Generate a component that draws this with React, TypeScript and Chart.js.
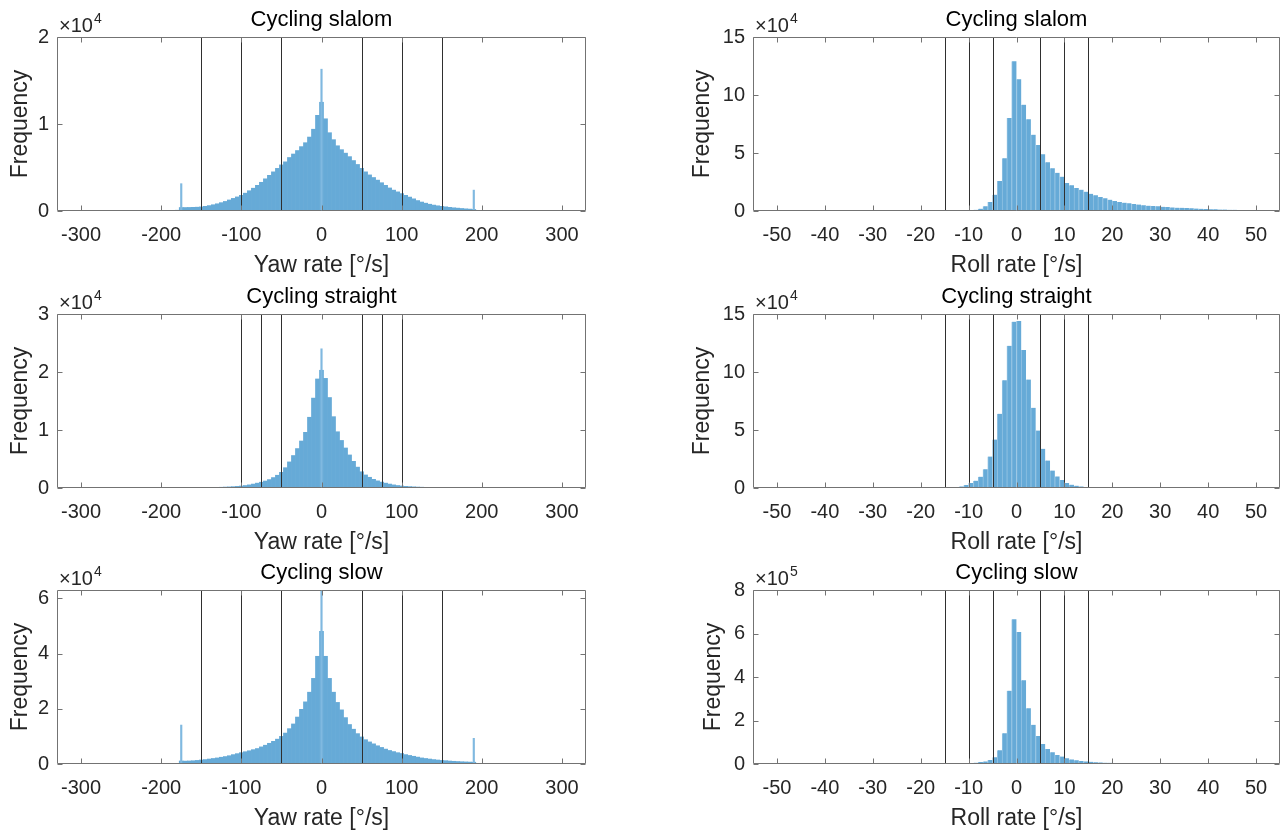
import React, { useEffect, useRef } from "react";
import { Chart, registerables } from "chart.js";

Chart.register(...registerables);

const FONT = '"Liberation Sans", Arial, Helvetica, sans-serif';
const TEXT_COLOR = "#262626";
const BOX_COLOR = "#737373";
const LINE_COLOR = "#2f2f2f";
const BAR_COLOR = "#66aad7";
const BAR_EDGE = "#8fc0e2";
const SPIKE_COLOR = "#80b9e0";

// ---------- yaw-rate histograms (5 deg/s bins, centres from -200 to 300) ----------
const YAW_FIRST_CENTER = -200;
const YAW_BIN_WIDTH = 5;

const SLALOM_YAW = [
  60, 70, 70, 80, 90, 400, 400, 410, 420, 440,
  470, 540, 620, 720, 830, 960, 1100, 1270, 1450, 1620,
  1800, 2050, 2330, 2620, 2950, 3300, 3700, 4100, 4500, 4900,
  5300, 5650, 6150, 6550, 6950, 7400, 7850, 8500, 9400, 11000,
  12500, 10600, 9000, 8200, 7500, 7050, 6650, 6250, 5800, 5350,
  4900, 4500, 4150, 3850, 3550, 3250, 2950, 2650, 2400, 2200,
  2000, 1800, 1600, 1400, 1200, 1030, 900, 780, 680, 600,
  540, 480, 420, 370, 330, 290, 250, 220, 180, 40,
  40, 35, 35, 35, 30, 30, 30, 30, 25, 25,
  25, 25, 20, 20, 20, 20, 20, 15, 15, 15,
  15,
];
const SLALOM_YAW_SPIKE_X = [-175, 0, 190];
const SLALOM_YAW_SPIKE = [3140, 16300, 2400];

const STRAIGHT_YAW = [
  20, 20, 25, 25, 30, 30, 35, 40, 45, 50,
  60, 70, 80, 95, 110, 130, 160, 190, 230, 280,
  340, 430, 540, 680, 840, 1000, 1200, 1450, 1800, 2200,
  2700, 3500, 4500, 5600, 6800, 8100, 9600, 12200, 15500, 18800,
  20300, 18900, 15600, 12300, 9700, 8200, 6900, 5700, 4600, 3600,
  2800, 2250, 1850, 1500, 1230, 1020, 840, 680, 540, 430,
  350, 290, 240, 200, 165, 140, 115, 95, 80, 70,
  60, 50, 45, 40, 35, 30, 30, 25, 25, 20,
  20, 10, 10, 10, 10, 10, 5, 5, 5, 5,
  5, 5, 5, 0, 0, 0, 0, 0, 0, 0,
  0,
];
const STRAIGHT_YAW_SPIKE_X = [0];
const STRAIGHT_YAW_SPIKE = [24000];

const SLOW_YAW = [
  100, 110, 120, 130, 150, 1100, 1050, 1100, 1180, 1300,
  1450, 1600, 1800, 2000, 2200, 2450, 2700, 3000, 3400, 3750,
  4100, 4450, 4800, 5200, 5600, 6200, 6800, 7500, 8200, 9000,
  10000, 11200, 12800, 14500, 17000, 19800, 22500, 26000, 31000, 39000,
  48000, 39000, 31000, 26000, 22300, 19600, 16800, 14300, 12600, 11000,
  9800, 8800, 8000, 7300, 6600, 6000, 5400, 4900, 4500, 4100,
  3800, 3400, 3100, 2800, 2500, 2200, 2000, 1800, 1600, 1450,
  1300, 1200, 1080, 980, 900, 820, 760, 700, 650, 60,
  60, 55, 55, 50, 50, 45, 45, 40, 40, 35,
  35, 30, 30, 25, 25, 20, 20, 15, 15, 10,
  10,
];
const SLOW_YAW_SPIKE_X = [-175, 0, 190];
const SLOW_YAW_SPIKE = [14100, 62800, 9300];

// ---------- roll-rate histograms (1 deg/s bins, left edges from -20 to 49) ----------
const ROLL_FIRST_EDGE = -20;
const ROLL_BIN_WIDTH = 1;

const SLALOM_ROLL = [
  0, 0, 0, 0, 0, 50, 100, 150, 250, 400,
  600, 1100, 2000, 4000, 7800, 14100, 25900, 45400, 80200, 129000,
  113500, 91700, 79000, 65800, 56900, 48900, 42000, 36800, 33000, 29600,
  24100, 22100, 19800, 18400, 16700, 14900, 13500, 12100, 10900, 9800,
  8600, 7800, 7200, 6600, 6000, 5500, 4900, 4600, 4300, 4000,
  3700, 3400, 3100, 2900, 2700, 2500, 2300, 2100, 1900, 1750,
  1600, 1450, 1300, 1200, 1100, 1000, 900, 800, 700, 600,
];

const STRAIGHT_ROLL = [
  0, 30, 60, 120, 200, 300, 500, 870, 1400, 2600,
  4300, 6300, 9800, 16200, 27100, 41800, 64000, 92900, 122600, 143400,
  144000, 118900, 93500, 69200, 49600, 33800, 23700, 15000, 10000, 6800,
  4300, 2900, 2000, 1400, 900, 600, 400, 250, 150, 100,
  60, 40, 30, 20, 20, 15, 15, 10, 10, 10,
  10, 5, 5, 5, 5, 5, 0, 0, 0, 0,
  0, 0, 0, 0, 0, 0, 0, 0, 0, 0,
];

const SLOW_ROLL = [
  0, 100, 200, 300, 500, 700, 1000, 1500, 2000, 3000,
  4000, 6000, 9000, 12000, 18000, 31000, 63000, 141000, 337000, 665000,
  607000, 385000, 256000, 180000, 129000, 92000, 69000, 54000, 41000, 34000,
  26000, 21000, 17000, 14000, 12000, 10000, 8500, 7200, 6000, 5200,
  4500, 3900, 3400, 3000, 2600, 2300, 2000, 1800, 1600, 1400,
  1250, 1100, 1000, 900, 800, 700, 620, 550, 480, 420,
  370, 320, 280, 240, 200, 170, 140, 110, 90, 70,
];

// ---------- ticks and threshold lines ----------
const YAW_X_TICKS = [-300, -200, -100, 0, 100, 200, 300];
const ROLL_X_TICKS = [-50, -40, -30, -20, -10, 0, 10, 20, 30, 40, 50];
const YAW_X_RANGE = [-330, 330];
const ROLL_X_RANGE = [-55, 55];

const Y_TICKS_SLALOM_YAW = [0, 10000, 20000];
const Y_TICKS_STRAIGHT_YAW = [0, 10000, 20000, 30000];
const Y_TICKS_SLOW_YAW = [0, 20000, 40000, 60000];
const Y_TICKS_SLALOM_ROLL = [0, 50000, 100000, 150000];
const Y_TICKS_STRAIGHT_ROLL = [0, 50000, 100000, 150000];
const Y_TICKS_SLOW_ROLL = [0, 200000, 400000, 600000, 800000];

const LINES_YAW_WIDE = [-150, -100, -50, 50, 100, 150];
const LINES_YAW_STRAIGHT = [-100, -75, -50, 50, 75, 100];
const LINES_ROLL = [-15, -10, -5, 5, 10, 15];

// ---------- layout ----------
const COLS = [
  { left: 0, width: 591, yAxisW: 57 },
  { left: 673, width: 612, yAxisW: 80 },
];
const ROW_TOPS = [0, 277, 553];
const CANVAS_H = 281;
const X_AXIS_H = 70;

type PanelCfg = {
  title: string;
  xTitle: string;
  col: number;
  row: number;
  values: number[];
  firstX: number;
  binW: number;
  centered: boolean;
  spikeX: number[];
  spikeY: number[];
  xRange: number[];
  xTicks: number[];
  yTicks: number[];
  yMax: number;
  exp: number;
  lines: number[];
  yTitlePad: number;
};

const PANELS: PanelCfg[] = [
  { title: "Cycling slalom", xTitle: "Yaw rate [°/s]", col: 0, row: 0, values: SLALOM_YAW, firstX: YAW_FIRST_CENTER, binW: YAW_BIN_WIDTH, centered: true, spikeX: SLALOM_YAW_SPIKE_X, spikeY: SLALOM_YAW_SPIKE, xRange: YAW_X_RANGE, xTicks: YAW_X_TICKS, yTicks: Y_TICKS_SLALOM_YAW, yMax: 20000, exp: 4, lines: LINES_YAW_WIDE, yTitlePad: 8 },
  { title: "Cycling slalom", xTitle: "Roll rate [°/s]", col: 1, row: 0, values: SLALOM_ROLL, firstX: ROLL_FIRST_EDGE, binW: ROLL_BIN_WIDTH, centered: false, spikeX: [], spikeY: [], xRange: ROLL_X_RANGE, xTicks: ROLL_X_TICKS, yTicks: Y_TICKS_SLALOM_ROLL, yMax: 150000, exp: 4, lines: LINES_ROLL, yTitlePad: 17 },
  { title: "Cycling straight", xTitle: "Yaw rate [°/s]", col: 0, row: 1, values: STRAIGHT_YAW, firstX: YAW_FIRST_CENTER, binW: YAW_BIN_WIDTH, centered: true, spikeX: STRAIGHT_YAW_SPIKE_X, spikeY: STRAIGHT_YAW_SPIKE, xRange: YAW_X_RANGE, xTicks: YAW_X_TICKS, yTicks: Y_TICKS_STRAIGHT_YAW, yMax: 30000, exp: 4, lines: LINES_YAW_STRAIGHT, yTitlePad: 8 },
  { title: "Cycling straight", xTitle: "Roll rate [°/s]", col: 1, row: 1, values: STRAIGHT_ROLL, firstX: ROLL_FIRST_EDGE, binW: ROLL_BIN_WIDTH, centered: false, spikeX: [], spikeY: [], xRange: ROLL_X_RANGE, xTicks: ROLL_X_TICKS, yTicks: Y_TICKS_STRAIGHT_ROLL, yMax: 150000, exp: 4, lines: LINES_ROLL, yTitlePad: 17 },
  { title: "Cycling slow", xTitle: "Yaw rate [°/s]", col: 0, row: 2, values: SLOW_YAW, firstX: YAW_FIRST_CENTER, binW: YAW_BIN_WIDTH, centered: true, spikeX: SLOW_YAW_SPIKE_X, spikeY: SLOW_YAW_SPIKE, xRange: YAW_X_RANGE, xTicks: YAW_X_TICKS, yTicks: Y_TICKS_SLOW_YAW, yMax: 63000, exp: 4, lines: LINES_YAW_WIDE, yTitlePad: 8 },
  { title: "Cycling slow", xTitle: "Roll rate [°/s]", col: 1, row: 2, values: SLOW_ROLL, firstX: ROLL_FIRST_EDGE, binW: ROLL_BIN_WIDTH, centered: false, spikeX: [], spikeY: [], xRange: ROLL_X_RANGE, xTicks: ROLL_X_TICKS, yTicks: Y_TICKS_SLOW_ROLL, yMax: 800000, exp: 5, lines: LINES_ROLL, yTitlePad: 28 },
];

function makeAxesPlugin(cfg: PanelCfg) {
  return {
    id: "matlabAxes",
    afterDatasetsDraw(chart: any) {
      const { ctx, chartArea: a, scales } = chart;
      const x = scales.x;
      const y = scales.y;
      ctx.save();
      // threshold lines
      ctx.strokeStyle = LINE_COLOR;
      ctx.lineWidth = 1;
      for (const v of cfg.lines) {
        const px = Math.round(x.getPixelForValue(v)) + 0.5;
        ctx.beginPath();
        ctx.moveTo(px, a.top);
        ctx.lineTo(px, a.bottom);
        ctx.stroke();
      }
      // box
      const l = Math.round(a.left) + 0.5;
      const r = Math.round(a.right) - 0.5;
      const t = Math.round(a.top) + 0.5;
      const b = Math.round(a.bottom) - 0.5;
      ctx.strokeStyle = BOX_COLOR;
      ctx.lineWidth = 1;
      ctx.beginPath();
      ctx.rect(l, t, r - l, b - t);
      ctx.stroke();
      // inward tick marks on all four sides
      const TL = 5;
      ctx.beginPath();
      for (const tk of x.ticks) {
        const px = Math.round(x.getPixelForValue(tk.value)) + 0.5;
        ctx.moveTo(px, b);
        ctx.lineTo(px, b - TL);
        ctx.moveTo(px, t);
        ctx.lineTo(px, t + TL);
      }
      for (const tk of y.ticks) {
        const py = Math.round(y.getPixelForValue(tk.value)) + 0.5;
        ctx.moveTo(l, py);
        ctx.lineTo(l + TL, py);
        ctx.moveTo(r, py);
        ctx.lineTo(r - TL, py);
      }
      ctx.stroke();
      // exponent label
      ctx.fillStyle = TEXT_COLOR;
      ctx.textAlign = "left";
      ctx.textBaseline = "alphabetic";
      ctx.font = `20px ${FONT}`;
      const base = "\u00d710";
      ctx.fillText(base, a.left + 2, a.top - 5);
      const w = ctx.measureText(base).width;
      ctx.font = `14px ${FONT}`;
      ctx.fillText(String(cfg.exp), a.left + 2 + w + 1, a.top - 14);
      ctx.restore();
    },
  };
}

function buildConfig(cfg: PanelCfg): any {
  const col = COLS[cfg.col];
  const offset = cfg.centered ? 0 : cfg.binW / 2;
  const mainData = cfg.values.map((v, i) => ({ x: cfg.firstX + i * cfg.binW + offset, y: v }));
  const spikeData = cfg.spikeX.map((sx, i) => ({ x: sx, y: cfg.spikeY[i] }));
  const datasets: any[] = [
    {
      data: mainData,
      backgroundColor: BAR_COLOR,
      borderColor: BAR_EDGE,
      borderWidth: cfg.centered ? 0 : { left: 1, top: 0, right: 0, bottom: 0 },
      barPercentage: 1,
      categoryPercentage: 1,
      grouped: false,
      order: 2,
    },
  ];
  if (spikeData.length) {
    datasets.push({
      data: spikeData,
      backgroundColor: SPIKE_COLOR,
      borderWidth: 0,
      barThickness: 1.5,
      grouped: false,
      order: 1,
    });
  }
  const div = Math.pow(10, cfg.exp);
  return {
    type: "bar",
    data: { datasets },
    plugins: [makeAxesPlugin(cfg)],
    options: {
      animation: false,
      responsive: false,
      maintainAspectRatio: false,
      events: [],
      layout: { padding: { left: 0, right: 5, top: 0, bottom: 0 } },
      plugins: {
        legend: { display: false },
        tooltip: { enabled: false },
        title: {
          display: true,
          text: cfg.title,
          color: "#000000",
          fullSize: false,
          font: { family: FONT, size: 22, weight: "normal", lineHeight: 1.2 },
          padding: { top: 7, bottom: 3.6 },
        },
      },
      scales: {
        x: {
          type: "linear",
          min: cfg.xRange[0],
          max: cfg.xRange[1],
          offset: false,
          grid: { display: false, drawTicks: false },
          border: { display: false },
          afterBuildTicks: (s: any) => {
            s.ticks = cfg.xTicks.map((v) => ({ value: v }));
          },
          afterFit: (s: any) => {
            s.height = X_AXIS_H;
          },
          ticks: {
            autoSkip: false,
            maxRotation: 0,
            minRotation: 0,
            padding: 12,
            color: TEXT_COLOR,
            font: { family: FONT, size: 20 },
            callback: (v: any) => String(v),
          },
          title: {
            display: true,
            text: cfg.xTitle,
            color: TEXT_COLOR,
            font: { family: FONT, size: 23, lineHeight: 1.2 },
            padding: { top: 0, bottom: 2 },
          },
        },
        y: {
          type: "linear",
          min: 0,
          max: cfg.yMax,
          grid: { display: false, drawTicks: false },
          border: { display: false },
          afterBuildTicks: (s: any) => {
            s.ticks = cfg.yTicks.map((v) => ({ value: v }));
          },
          afterFit: (s: any) => {
            s.width = col.yAxisW;
          },
          ticks: {
            autoSkip: false,
            padding: 8,
            color: TEXT_COLOR,
            font: { family: FONT, size: 20 },
            callback: (v: any) => String(Math.round((v / div) * 100) / 100),
          },
          title: {
            display: true,
            text: "Frequency",
            color: TEXT_COLOR,
            font: { family: FONT, size: 23, lineHeight: 1.2 },
            padding: { top: cfg.yTitlePad - 1, bottom: 0 },
          },
        },
      },
    },
  };
}

function Panel({ cfg }: { cfg: PanelCfg }) {
  const ref = useRef<HTMLCanvasElement | null>(null);
  const col = COLS[cfg.col];
  useEffect(() => {
    if (!ref.current) return;
    const chart = new Chart(ref.current, buildConfig(cfg));
    return () => chart.destroy();
  }, [cfg]);
  return (
    <canvas
      ref={ref}
      width={col.width}
      height={CANVAS_H}
      style={{
        position: "absolute",
        left: col.left,
        top: ROW_TOPS[cfg.row],
        width: col.width,
        height: CANVAS_H,
      }}
    />
  );
}

export default function App() {
  return (
    <div
      style={{
        position: "fixed",
        left: 0,
        top: 0,
        width: 1285,
        height: 834,
        background: "#ffffff",
        overflow: "hidden",
      }}
    >
      {PANELS.map((p, i) => (
        <Panel key={i} cfg={p} />
      ))}
    </div>
  );
}
